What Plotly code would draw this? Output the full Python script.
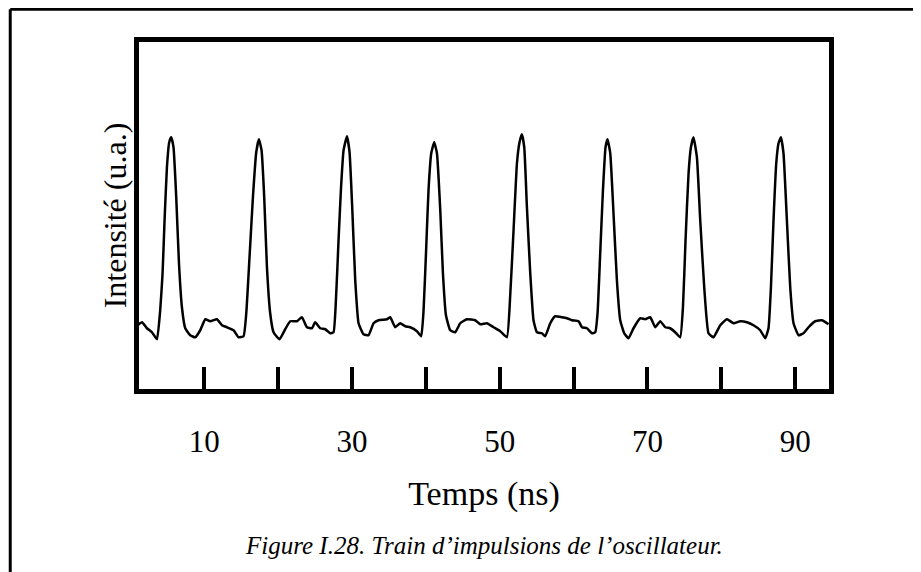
import plotly.graph_objects as go

# Time axis (ns) and intensity (a.u.)
time_ns = [
    0.66, 1.57, 2.24, 2.92, 3.60, 4.04, 4.36, 4.63, 4.95, 5.26, 5.53, 5.84, 6.21, 6.58, 6.98,
    7.43, 8.10, 8.78, 9.46, 10.14, 10.81, 11.72, 12.40, 13.07, 13.97, 14.64, 15.32,
    15.69, 16.13, 16.59, 17.04, 17.40, 17.76, 18.12, 18.49, 18.93, 19.38,
    20.19, 20.96, 21.64, 22.55, 23.22, 23.90, 24.58, 25.02, 25.70, 26.38, 27.06, 27.50,
    27.87, 28.18, 28.50, 28.86, 29.32, 29.67, 30.03, 30.44, 30.89,
    31.56, 32.24, 32.92, 33.59, 34.73, 35.18, 35.85, 36.53, 37.21, 37.88, 38.79, 39.37,
    39.69, 40.05, 40.36, 40.73, 41.13, 41.50, 41.95, 42.31, 42.72,
    43.30, 43.98, 44.65, 45.56, 46.68, 47.36, 48.27, 49.16, 50.07, 50.97,
    51.42, 51.87, 52.33, 52.68, 53.00, 53.32, 53.68, 54.13, 54.57,
    55.03, 55.71, 56.16, 56.84, 57.51, 58.42, 59.09, 59.77, 60.67, 61.13, 61.80, 62.48, 62.93,
    63.24, 63.60, 63.97, 64.32, 64.59, 64.96, 65.40, 65.86, 66.31,
    66.85, 67.43, 68.11, 69.02, 69.69, 70.37, 71.05, 71.72, 72.40, 73.08, 73.75, 74.43,
    74.80, 75.15, 75.56, 75.88, 76.23, 76.69, 77.14, 77.68, 78.26,
    78.94, 79.85, 80.75, 81.65, 82.55, 83.46, 84.35, 85.26, 85.94,
    86.38, 86.71, 87.06, 87.43, 87.74, 88.06, 88.41, 88.87, 89.32, 89.77,
    90.45, 91.12, 91.80, 92.71, 93.61, 94.51,
]
intensity = [
    64, 69, 63, 59, 52, 81, 118, 171, 224, 249, 254, 244, 194, 128, 84,
    63, 56, 54, 61, 72, 70, 72, 66, 64, 61, 54, 55,
    78, 134, 194, 239, 252, 241, 194, 124, 78, 59,
    52, 62, 70, 70, 74, 64, 63, 69, 63, 62, 58, 59,
    98, 151, 201, 241, 255, 239, 184, 111, 68,
    57, 56, 68, 71, 72, 74, 64, 68, 65, 64, 60, 55,
    81, 144, 201, 238, 249, 238, 181, 118, 76,
    61, 59, 68, 72, 71, 67, 68, 64, 60, 54,
    96, 161, 228, 249, 257, 244, 184, 118, 71,
    59, 58, 55, 68, 75, 74, 73, 71, 70, 64, 63, 58, 59,
    78, 138, 201, 244, 252, 238, 178, 111, 71,
    58, 53, 63, 73, 72, 74, 64, 70, 64, 63, 59, 54,
    84, 151, 218, 244, 254, 234, 171, 104, 58,
    54, 66, 72, 68, 70, 69, 66, 61, 53,
    63, 104, 171, 228, 248, 254, 238, 171, 104, 68,
    56, 58, 64, 70, 71, 67,
]

tick_values = [10, 20, 30, 40, 50, 60, 70, 80, 90]
tick_labels = ["10", "", "30", "", "50", "", "70", "", "90"]

FONT = "Liberation Serif, Times New Roman, serif"

fig = go.Figure()
fig.add_trace(go.Scatter(
    x=time_ns, y=intensity, mode="lines",
    line=dict(color="black", width=2.5, shape="spline", smoothing=0.4),
    hoverinfo="skip", showlegend=False,
))

fig.update_layout(
    width=913, height=564,
    margin=dict(l=130.75, r=92.25, t=33.75, b=183.25, autoexpand=False),
    paper_bgcolor="white", plot_bgcolor="white",
    font=dict(family=FONT, color="black", size=31),
    showlegend=False,
    xaxis=dict(
        range=[1.17, 94.57], showgrid=False, zeroline=False,
        showline=True, linecolor="black", linewidth=4.5, mirror=True,
        tickmode="array", tickvals=tick_values, ticktext=tick_labels,
        ticks="inside", ticklen=22, tickwidth=4, tickcolor="black",
        tickfont=dict(family=FONT, size=31),
        ticklabelstandoff=21,
        title=dict(text="Temps (ns)", font=dict(family=FONT, size=34), standoff=25),
        automargin=False,
    ),
    yaxis=dict(
        range=[2.25, 349.25], showgrid=False, zeroline=False,
        showline=True, linecolor="black", linewidth=4.5, mirror=True,
        showticklabels=False, ticks="",
        title=dict(text="Intensité (u.a.)", font=dict(family=FONT, size=32), standoff=0),
        automargin=False,
    ),
    annotations=[dict(
        text="<i>Figure I.28. Train d’impulsions de l’oscillateur.</i>",
        xref="paper", yref="paper", x=0.5, y=-0.450,
        xanchor="center", yanchor="middle", showarrow=False,
        font=dict(family=FONT, size=25, color="black"),
    )],
    shapes=[
        dict(type="line", xref="paper", yref="paper",
             x0=-0.1866, x1=-0.1866, y0=1.0944, y1=-0.62,
             line=dict(color="black", width=3)),
        dict(type="line", xref="paper", yref="paper",
             x0=-0.1866, x1=1.2, y0=1.0944, y1=1.0944,
             line=dict(color="black", width=3)),
    ],
)

fig.write_html("out.html")
